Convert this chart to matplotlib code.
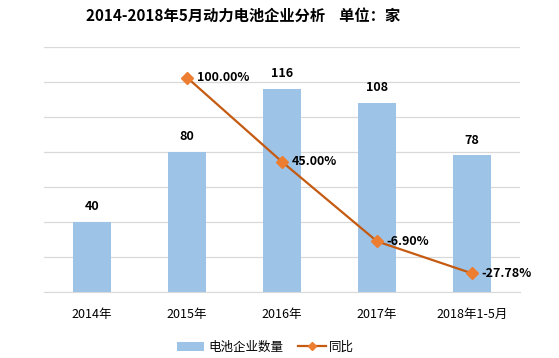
import matplotlib
matplotlib.use('Agg')
import numpy as np
from matplotlib import pyplot as plt

plt.rcParams['font.family'] = ['Noto Sans CJK SC', 'DejaVu Sans']

categories = ['2014年', '2015年', '2016年', '2017年', '2018年1-5月']
companies = [40, 80, 116, 108, 78]  # 电池企业数量
yoy_x = [1, 2, 3, 4]
yoy = [100.00, 45.00, -6.90, -27.78]  # 同比 (%)

bar_color = '#9DC3E6'
line_color = '#C55A11'
marker_color = '#ED7D31'
grid_color = '#D9D9D9'

fig = plt.figure(figsize=(5.59, 3.58), dpi=100)
ax = fig.add_axes([0.0796, 0.184, 0.85, 0.685])
x = np.arange(len(categories))

bars = ax.bar(x, companies, width=0.4, color=bar_color, zorder=2, label='电池企业数量')
ax.set_ylim(0, 140)
ax.set_xlim(-0.5, len(categories) - 0.5)
ax.set_yticks(np.arange(0, 141, 20))
ax.yaxis.grid(True, color=grid_color, linewidth=0.9, zorder=0)
ax.set_xticks(x)
ax.set_xticklabels(categories)
for s in ['top', 'right', 'left']:
    ax.spines[s].set_visible(False)
ax.spines['bottom'].set_color(grid_color)
for xi, v in zip(x, companies):
    ax.text(xi, v + 5, str(v), ha='center', va='bottom', fontsize=9, fontweight='bold')

ax2 = ax.twinx()
ax2.set_ylim(-40, 120)
ax2.axis('off')
# twinx turns the left ticks back on, so hide them afterwards
ax.tick_params(axis='y', left=False, labelleft=False)
ax.tick_params(axis='x', bottom=False, labelsize=9, pad=8)

line, = ax2.plot(yoy_x, yoy, color=line_color, linewidth=1.6, marker='D', markersize=6,
                 markerfacecolor=marker_color, markeredgecolor=marker_color, zorder=3, label='同比')
for xi, v in zip(yoy_x, yoy):
    ax2.annotate('%.2f%%' % v, (xi, v), xytext=(7, 0), textcoords='offset points',
                 ha='left', va='center', fontsize=9, fontweight='bold')

fig.text(0.435, 0.955, '2014-2018年5月动力电池企业分析    单位：家', ha='center', va='center',
         fontsize=11, fontweight='bold')

leg = fig.legend([bars, line], ['电池企业数量', '同比'], loc='center', bbox_to_anchor=(0.475, 0.03),
                 ncol=2, frameon=False, fontsize=9, handlelength=2.2, handletextpad=0.3,
                 columnspacing=1.2)
leg.legend_handles[1].set_markersize(4)

fig.savefig('out.png', dpi=100)
